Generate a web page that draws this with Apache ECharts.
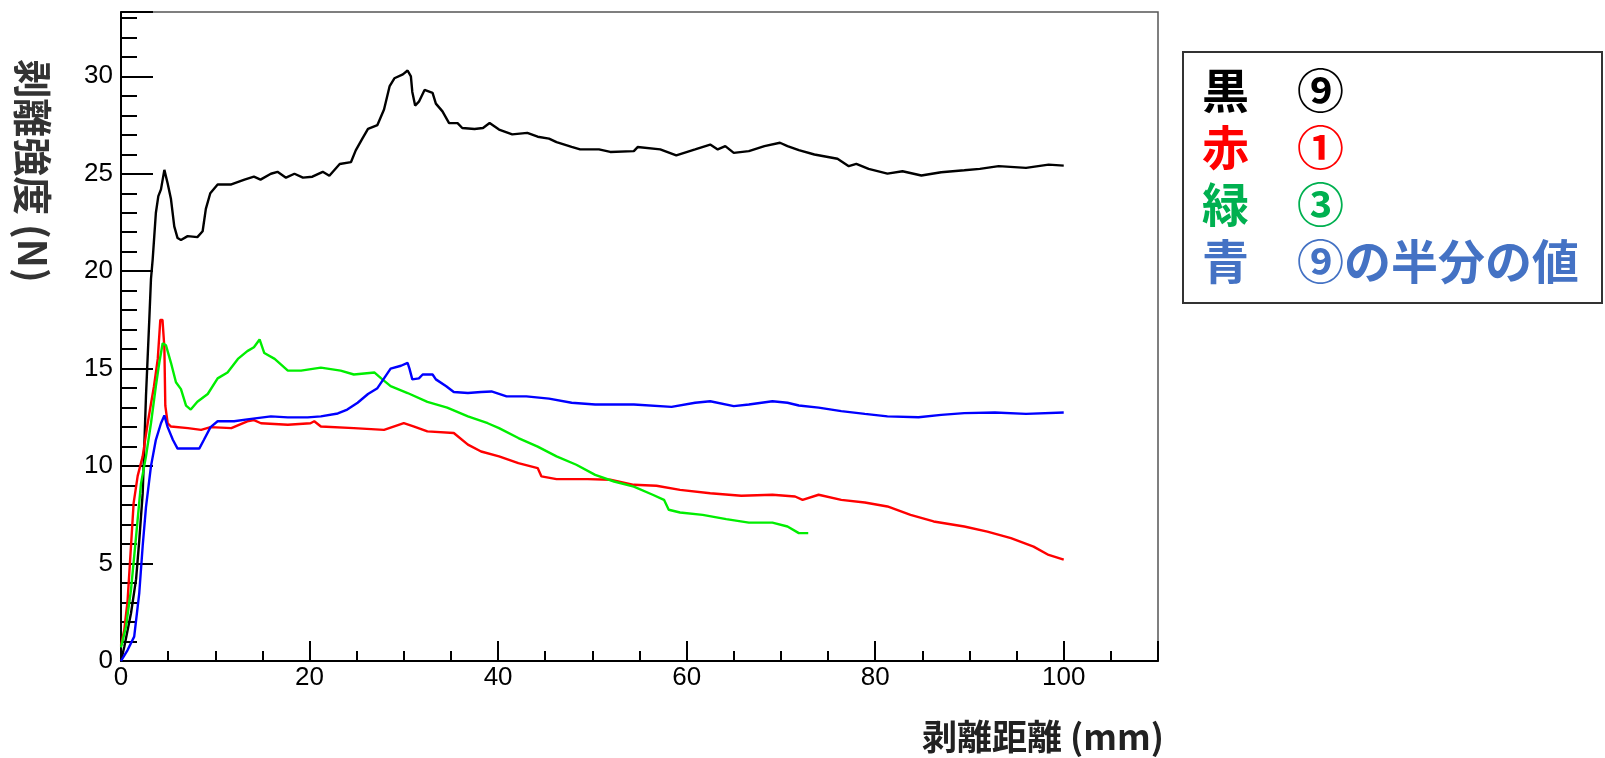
<!DOCTYPE html>
<html>
<head>
<meta charset="utf-8">
<script src="https://cdn.jsdelivr.net/npm/echarts@6/dist/echarts.min.js"></script>
<style>
html,body{margin:0;padding:0;background:#fff;}
#c{width:1605px;height:758px;}
</style>
</head>
<body>
<div id="c"></div>
<script>
// ---- data ----
const xTickLabels = [0, 20, 40, 60, 80, 100];
const yTickLabels = [0, 5, 10, 15, 20, 25, 30];

const blackX = [0, 0.35, 1.06, 1.6, 1.94, 2.3, 2.47, 2.65, 3.0, 3.18, 3.36, 3.53, 3.7, 3.96, 4.24, 4.6, 4.95, 5.3, 5.65, 6.0, 6.36, 7.07, 8.1, 8.66, 9.0, 9.47, 10.25, 11.7, 13.1, 14.1, 14.8, 15.9, 16.6, 17.5, 18.4, 19.3, 20.3, 21.4, 22.1, 23.2, 24.4, 24.9, 25.6, 26.2, 27.2, 27.9, 28.5, 29.0, 29.9, 30.4, 30.75, 30.9, 31.2, 31.6, 32.2, 33.05, 33.4, 34.1, 34.8, 35.7, 36.2, 37.5, 38.4, 39.1, 40.1, 41.5, 43.1, 44.2, 45.4, 46.2, 47.8, 48.7, 50.7, 51.9, 54.4, 54.8, 57.2, 58.9, 60.9, 62.5, 63.3, 64.1, 65.0, 66.6, 68.25, 69.9, 70.7, 71.9, 73.55, 76.0, 77.2, 78.0, 79.3, 81.3, 82.9, 84.9, 87.0, 89.45, 91.1, 93.1, 96.0, 98.4, 100];
const blackY = [0, 0.73, 2.45, 4.2, 6.2, 8.6, 11.0, 13.6, 17.5, 19.6, 20.6, 21.8, 23.0, 23.85, 24.2, 25.2, 24.5, 23.7, 22.3, 21.7, 21.6, 21.8, 21.75, 22.05, 23.2, 24.0, 24.45, 24.45, 24.7, 24.85, 24.7, 25.0, 25.1, 24.8, 25.0, 24.8, 24.85, 25.1, 24.9, 25.5, 25.6, 26.2, 26.8, 27.3, 27.5, 28.3, 29.5, 29.9, 30.1, 30.3, 30.0, 29.2, 28.5, 28.7, 29.3, 29.15, 28.6, 28.2, 27.6, 27.6, 27.35, 27.3, 27.35, 27.6, 27.27, 27.02, 27.1, 26.9, 26.8, 26.62, 26.38, 26.25, 26.25, 26.12, 26.16, 26.37, 26.25, 25.94, 26.25, 26.5, 26.25, 26.42, 26.07, 26.16, 26.42, 26.59, 26.42, 26.21, 25.99, 25.77, 25.39, 25.51, 25.25, 25.01, 25.13, 24.91, 25.08, 25.18, 25.25, 25.39, 25.3, 25.47, 25.42];

const redX = [0, 0.35, 0.7, 1.06, 1.34, 1.77, 2.3, 2.83, 3.18, 3.5, 3.9, 4.17, 4.4, 4.6, 4.7, 4.95, 5.3, 7.1, 8.5, 9.5, 11.7, 13.4, 14.1, 14.85, 17.7, 20.1, 20.5, 21.2, 24.7, 27.9, 30.0, 31.1, 32.5, 35.3, 36.8, 38.2, 40.1, 42.15, 44.2, 44.6, 46.2, 49.5, 51.9, 54.4, 56.8, 59.3, 62.5, 65.8, 69.1, 71.5, 72.3, 74.0, 76.4, 78.9, 81.3, 83.75, 86.2, 89.45, 91.9, 94.4, 96.8, 98.4, 100];
const redY = [0.8, 1.6, 3.1, 5.9, 8.1, 9.5, 10.5, 12.2, 13.2, 14.1, 15.5, 17.5, 17.5, 16.1, 13.1, 12.2, 12.03, 11.95, 11.86, 12.0, 11.95, 12.3, 12.36, 12.2, 12.12, 12.2, 12.3, 12.03, 11.95, 11.86, 12.2, 12.03, 11.78, 11.7, 11.1, 10.75, 10.5, 10.15, 9.9, 9.47, 9.33, 9.33, 9.3, 9.04, 8.99, 8.78, 8.61, 8.48, 8.53, 8.44, 8.27, 8.53, 8.27, 8.13, 7.93, 7.5, 7.16, 6.9, 6.64, 6.3, 5.87, 5.44, 5.2];

const greenX = [0, 0.53, 1.06, 1.6, 2.12, 2.65, 3.18, 3.7, 4.06, 4.42, 4.77, 5.3, 5.83, 6.36, 6.9, 7.4, 8.1, 9.2, 10.25, 11.3, 12.4, 13.4, 14.1, 14.7, 15.2, 16.3, 17.7, 19.1, 21.2, 23.3, 24.7, 26.9, 27.6, 28.6, 30.4, 32.5, 34.6, 36.8, 38.9, 40.1, 42.15, 44.2, 46.2, 48.3, 50.3, 52.3, 54.4, 56.4, 57.6, 58.1, 59.3, 61.7, 64.2, 66.6, 69.1, 70.7, 71.9, 72.9];
const greenY = [0.7, 1.76, 3.65, 6.4, 9.1, 10.5, 12.2, 14.1, 15.3, 16.3, 16.2, 15.3, 14.3, 13.95, 13.1, 12.9, 13.3, 13.7, 14.5, 14.8, 15.5, 15.9, 16.1, 16.5, 15.8, 15.5, 14.9, 14.9, 15.05, 14.9, 14.7, 14.8, 14.5, 14.1, 13.75, 13.3, 13.0, 12.55, 12.2, 11.95, 11.44, 11.0, 10.5, 10.07, 9.55, 9.21, 8.95, 8.53, 8.27, 7.76, 7.62, 7.5, 7.28, 7.1, 7.1, 6.9, 6.56, 6.56];

const blueX = [0, 0.7, 1.4, 1.94, 2.3, 2.65, 3.18, 3.7, 4.24, 4.6, 4.95, 5.5, 6.0, 7.07, 8.3, 8.8, 9.5, 10.25, 12.0, 13.4, 15.9, 17.7, 19.8, 21.2, 23.0, 24.0, 25.1, 26.2, 27.2, 27.9, 28.6, 29.7, 30.4, 30.6, 30.9, 31.6, 32.0, 33.05, 33.4, 34.5, 35.3, 36.8, 38.2, 39.3, 40.9, 43.0, 45.4, 47.8, 50.3, 54.4, 58.4, 60.9, 62.5, 65.0, 66.6, 69.1, 70.7, 71.9, 74.0, 76.4, 78.9, 81.3, 84.6, 87.0, 89.45, 92.7, 96.0, 100];
const blueY = [0, 0.56, 1.25, 3.5, 5.9, 7.9, 10.0, 11.35, 12.2, 12.6, 12.0, 11.35, 10.9, 10.9, 10.9, 11.35, 12.0, 12.3, 12.3, 12.4, 12.55, 12.5, 12.5, 12.55, 12.7, 12.9, 13.25, 13.7, 14.0, 14.5, 15.0, 15.15, 15.3, 15.0, 14.45, 14.5, 14.7, 14.7, 14.45, 14.1, 13.8, 13.75, 13.8, 13.83, 13.58, 13.58, 13.46, 13.25, 13.16, 13.16, 13.04, 13.25, 13.33, 13.08, 13.16, 13.33, 13.25, 13.11, 13.0, 12.82, 12.68, 12.55, 12.51, 12.63, 12.72, 12.75, 12.68, 12.75];

const legendKanji = ['黒', '赤', '緑', '青'];
const legendText = ['⑨', '①', '③', '⑨の半分の値'];
const legendColors = ['#000000', '#ff0000', '#00b050', '#4472c4'];
const lineColors = ['#000000', '#ff0000', '#00ee00', '#0000ff'];
const xTitle = '剥離距離 (mm)';
const yTitle = '剥離強度 (N)';

// ---- build chart ----
function zip(xs, ys) {
  const n = Math.min(xs.length, ys.length);
  const out = [];
  for (let i = 0; i < n; i++) out.push([xs[i], ys[i]]);
  return out;
}
const seriesData = [zip(blackX, blackY), zip(redX, redY), zip(greenX, greenY), zip(blueX, blueY)];

const chart = echarts.init(document.getElementById('c'), null, {renderer: 'canvas'});
const tickFont = {fontSize: 26, color: '#000', fontFamily: 'Liberation Sans, Arial, sans-serif'};

const legendGraphics = [{
  type: 'rect', shape: {x: 1183, y: 52, width: 419, height: 251},
  style: {fill: '#fff', stroke: '#333', lineWidth: 2}
}];
legendKanji.forEach((k, i) => {
  const cy = 90 + i * 57;
  legendGraphics.push({type: 'text', x: 1202, y: cy, style: {text: k, fill: legendColors[i], font: 'bold 47px "Noto Sans CJK JP"', textVerticalAlign: 'middle', textAlign: 'left'}});
  legendGraphics.push({type: 'text', x: 1297, y: cy, style: {text: legendText[i], fill: legendColors[i], font: 'bold 47px "Noto Sans CJK JP"', textVerticalAlign: 'middle', textAlign: 'left'}});
});

chart.setOption({
  animation: false,
  backgroundColor: '#fff',
  grid: {left: 121, top: 12, right: 447, bottom: 97, show: true, borderColor: '#555', borderWidth: 1.5, backgroundColor: 'transparent'},
  xAxis: [{
    type: 'value', min: 0, max: 110, interval: 20,
    axisLine: {show: true, onZero: false, lineStyle: {color: '#000', width: 2}},
    axisTick: {show: true, inside: true, length: 20, lineStyle: {color: '#000', width: 2}},
    axisLabel: Object.assign({margin: 4, formatter: v => (xTickLabels.indexOf(v) >= 0 ? String(v) : '')}, tickFont),
    splitLine: {show: false}
  }, {
    type: 'value', min: 0, max: 110, interval: 5, position: 'bottom',
    axisLine: {show: false},
    axisTick: {show: true, inside: true, length: 10, lineStyle: {color: '#000', width: 2}},
    axisLabel: {show: false}, splitLine: {show: false}
  }],
  yAxis: [{
    type: 'value', min: 0, max: 33.3, interval: 5,
    axisLine: {show: true, onZero: false, lineStyle: {color: '#000', width: 2}},
    axisTick: {show: true, inside: true, length: 32, lineStyle: {color: '#000', width: 2}},
    axisLabel: Object.assign({margin: 8, formatter: v => (yTickLabels.indexOf(v) >= 0 ? String(v) : '')}, tickFont),
    splitLine: {show: false}
  }, {
    type: 'value', min: 0, max: 33.3, interval: 1, position: 'left',
    axisLine: {show: false},
    axisTick: {show: true, inside: true, length: 16, lineStyle: {color: '#000', width: 2}},
    axisLabel: {show: false}, splitLine: {show: false}
  }],
  series: seriesData.map((d, i) => ({
    type: 'line', data: d, xAxisIndex: 0, yAxisIndex: 0,
    showSymbol: false, symbol: 'none', smooth: false,
    lineStyle: {color: lineColors[i], width: 2.4}, z: 3 + i
  })),
  graphic: [
    {type: 'text', x: 1164, y: 737, style: {text: xTitle, fill: '#222', font: 'bold 35px "Noto Sans CJK JP"', textAlign: 'right', textVerticalAlign: 'middle'}},
    {type: 'text', x: 33, y: 171, rotation: -Math.PI / 2, style: {text: yTitle, fill: '#333', font: 'bold 39px "Noto Sans CJK JP"', textAlign: 'center', textVerticalAlign: 'middle'}},
    ...legendGraphics
  ]
});
</script>
</body>
</html>
